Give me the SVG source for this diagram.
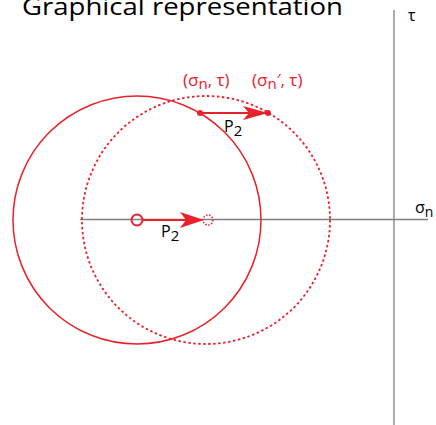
<svg xmlns="http://www.w3.org/2000/svg" width="436" height="425" viewBox="0 0 436 425">
<style>
.ax{stroke:#808080;stroke-width:1.3;fill:none}
.rc{stroke:#E8212B;stroke-width:1.5;fill:none}
.dc{stroke:#E8212B;stroke-width:1.8;fill:none;stroke-dasharray:2.5 2.5}
.ar{stroke:#E8212B;stroke-width:2.2;fill:none}
.hd{fill:#E8212B;stroke:none}
.rt{fill:#E8212B;font-family:"Open Sans","Liberation Sans",sans-serif;font-size:17px}
.bt{fill:#000;font-family:"Open Sans","Liberation Sans",sans-serif;font-size:16px}
</style>
<rect width="436" height="425" fill="#fff"/>
<text x="22" y="15" font-family="Open Sans, Liberation Sans, sans-serif" font-size="24" textLength="321" lengthAdjust="spacingAndGlyphs" fill="#000">Graphical representation</text>
<g id="axes">
<line class="ax" x1="394" y1="10" x2="394" y2="425"/>
<line class="ax" x1="80" y1="219.5" x2="428" y2="219.5"/>
<text x="408" y="21" class="bt">τ</text>
<text x="415" y="213" class="bt">σ<tspan font-size="14" dy="4">n</tspan></text>
</g>
<g id="circle-original"><circle class="rc" cx="137" cy="220" r="124"/></g>
<g id="circle-shifted"><circle class="dc" cx="206" cy="220" r="124"/></g>
<g id="center-original"><circle cx="137" cy="220" r="5.5" fill="none" stroke="#E8212B" stroke-width="2"/></g>
<g id="center-shifted"><circle cx="208" cy="220" r="5" fill="none" stroke="#E8212B" stroke-width="1.5" stroke-dasharray="1.5 1.5"/></g>
<g id="point-original"><circle cx="200" cy="113" r="3" fill="#E8212B"/></g>
<g id="point-shifted"><circle cx="268" cy="113" r="3" fill="#E8212B"/></g>
<g id="connectors">
<line class="ar" x1="143" y1="220" x2="190" y2="220"/>
<path class="hd" d="M204,220 L180,212 L186,220 L180,228 Z"/>
<line class="ar" x1="200" y1="113" x2="252" y2="113"/>
<path class="hd" d="M268,113 L243,106 L249,113 L243,120 Z"/>
</g>
<g id="labels">
<text x="183" y="86" class="rt">(σ<tspan font-size="15" dy="3">n</tspan><tspan dy="-3">, τ)</tspan></text>
<text x="252" y="86" class="rt">(σ<tspan font-size="15" dy="3">n</tspan><tspan dy="-3">′, τ)</tspan></text>
<text x="224" y="132" class="bt">P<tspan font-size="15" dy="4">2</tspan></text>
<text x="161" y="237" class="bt">P<tspan font-size="15" dy="4">2</tspan></text>
</g>
</svg>
